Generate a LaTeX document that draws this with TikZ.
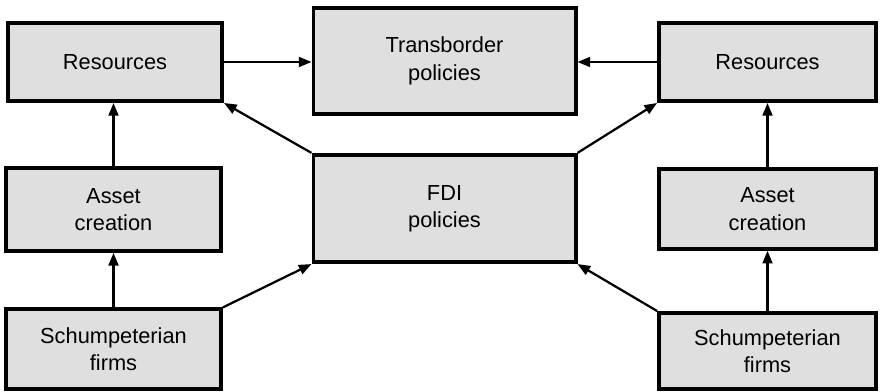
\documentclass[tikz,border=0pt]{standalone}
\usepackage{fontspec}
\setmainfont{Liberation Sans}
\usepackage{tikz}
\usetikzlibrary{arrows.meta,calc,positioning}

\tikzset{
  box/.style={draw=black, line width=2.8pt, fill=gray!25, align=center,
    inner sep=0pt, font=\fontsize{15.5}{19.5}\selectfont},
  flow/.style={line width=1.6pt, -{Triangle[length=9pt,width=7pt]}}
}

\begin{document}
\begin{tikzpicture}[x=0.025cm, y=-0.025cm]
\useasboundingbox (0,0) rectangle (880,392);

% Middle column
\node[box, minimum width=6.55cm, minimum height=2.65cm] (trans) at (444.5,61) {Transborder\\policies};
\node[box, minimum width=6.55cm, minimum height=2.68cm] (fdi) at (444.5,208.5) {FDI\\policies};

% Left column
\node[box, minimum width=5.35cm, minimum height=1.95cm] (resL) at (115,62) {Resources};
\node[box, minimum width=5.37cm, minimum height=2.07cm] (assetL) at (113.5,209.5) {Asset\\creation};
\node[box, minimum width=5.37cm, minimum height=1.98cm] (schL) at (113.5,349) {Schumpeterian\\firms};

% Right column
\node[box, minimum width=5.42cm, minimum height=1.95cm] (resR) at (767.5,62) {Resources};
\node[box, minimum width=5.42cm, minimum height=1.99cm] (assetR) at (767.5,209) {Asset\\creation};
\node[box, minimum width=5.42cm, minimum height=1.9cm] (schR) at (767.5,351) {Schumpeterian\\firms};

% Arrows into the top middle box
\draw[flow] (resL.east) -- (resL.east -| trans.west);
\draw[flow] (resR.west) -- (resR.west -| trans.east);

% Arrows from FDI policies
\draw[flow] (fdi.north west) -- (resL.south east);
\draw[flow] (fdi.north east) -- (resR.south west);

% Arrows from the firms to FDI policies
\draw[flow] (schL.north east) -- (fdi.south west);
\draw[flow] (schR.north west) -- (fdi.south east);

% Vertical chains
\draw[flow] (schL.north) -- (schL.north |- assetL.south);
\draw[flow] (assetL.north) -- (assetL.north |- resL.south);
\draw[flow] (schR.north) -- (schR.north |- assetR.south);
\draw[flow] (assetR.north) -- (assetR.north |- resR.south);
\end{tikzpicture}
\end{document}
